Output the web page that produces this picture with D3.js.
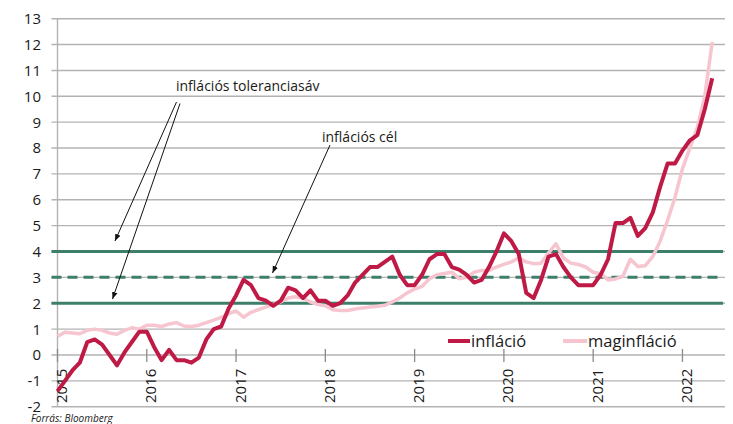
<!DOCTYPE html>
<html>
<head>
<meta charset="utf-8">
<script src="https://cdn.jsdelivr.net/npm/d3@7"></script>
<style>
  html, body { margin: 0; padding: 0; background: #fff; }
  svg { display: block; }
  text { font-family: "Open Sans", Lato, sans-serif; fill: #1a1a1a; }
</style>
</head>
<body>
<svg id="chart" width="733" height="424"></svg>
<script>
// ---- Data (monthly, Jan 2015 – May 2022) ----
const startYear = 2015;
const yearLabels = ["2015", "2016", "2017", "2018", "2019", "2020", "2021", "2022"];
const yTicks = [-2, -1, 0, 1, 2, 3, 4, 5, 6, 7, 8, 9, 10, 11, 12, 13];

const inflacio = [
  -1.4, -1.0, -0.6, -0.3, 0.5, 0.6, 0.4, 0.0, -0.4, 0.1, 0.5, 0.9,
  0.9, 0.3, -0.2, 0.2, -0.2, -0.2, -0.3, -0.1, 0.6, 1.0, 1.1, 1.8,
  2.3, 2.9, 2.7, 2.2, 2.1, 1.9, 2.1, 2.6, 2.5, 2.2, 2.5, 2.1,
  2.1, 1.9, 2.0, 2.3, 2.8, 3.1, 3.4, 3.4, 3.6, 3.8, 3.1, 2.7,
  2.7, 3.1, 3.7, 3.9, 3.9, 3.4, 3.3, 3.1, 2.8, 2.9, 3.4, 4.0,
  4.7, 4.4, 3.9, 2.4, 2.2, 2.9, 3.8, 3.9, 3.4, 3.0, 2.7, 2.7,
  2.7, 3.1, 3.7, 5.1, 5.1, 5.3, 4.6, 4.9, 5.5, 6.5, 7.4, 7.4,
  7.9, 8.3, 8.5, 9.5, 10.7
];

const maginflacio = [
  0.72, 0.88, 0.85, 0.82, 0.95, 1.0, 0.95, 0.85, 0.8, 0.95, 1.05, 1.0,
  1.15, 1.15, 1.1, 1.2, 1.25, 1.12, 1.1, 1.15, 1.25, 1.35, 1.45, 1.6,
  1.7, 1.46, 1.65, 1.75, 1.85, 1.95, 2.05, 2.2, 2.25, 2.2, 2.05, 1.95,
  1.9, 1.75, 1.72, 1.72, 1.78, 1.82, 1.85, 1.88, 1.92, 2.05, 2.2, 2.4,
  2.55, 2.65, 2.95, 3.1, 3.15, 3.2, 2.95, 3.0, 3.2, 3.27, 3.27, 3.4,
  3.5, 3.6, 3.75, 3.6, 3.53, 3.55, 3.95, 4.3, 3.75, 3.55, 3.5, 3.4,
  3.2, 3.14, 2.9, 2.94, 3.05, 3.7, 3.42, 3.45, 3.8, 4.4, 5.2, 6.1,
  7.2, 8.0, 8.8, 10.0, 12.1
];

const targetLevels = [2, 3, 4];   // tolerance band 2–4, target 3
const seriesNames = ["infláció", "maginfláció"];

// ---- Layout ----
const svg = d3.select("#chart");
const x = d3.scaleLinear().domain([0, 88]).range([57.5, 57.5 + 88 * 7.44]);
const y = d3.scaleLinear().domain([-2, 13]).range([406.7, 18.7]);
const gridLeft = 51.5, gridRight = 725;

const cRed = "#bf1a45", cPink = "#f6c5cf", cGreen = "#3e7f6b", cGrid = "#b3b3b3";

// gridlines
svg.append("g").selectAll("line").data(yTicks).join("line")
  .attr("x1", gridLeft).attr("x2", gridRight)
  .attr("y1", d => y(d)).attr("y2", d => y(d))
  .attr("stroke", cGrid).attr("stroke-width", 1.4);

// vertical axis line
svg.append("line")
  .attr("x1", x(0)).attr("x2", x(0))
  .attr("y1", y(13)).attr("y2", y(-2))
  .attr("stroke", cGrid).attr("stroke-width", 1.4);

// y labels
svg.append("g").selectAll("text").data(yTicks).join("text")
  .attr("x", 41).attr("y", d => y(d))
  .attr("dy", "0.36em")
  .attr("text-anchor", "end")
  .attr("font-size", 15)
  .text(d => d);

// x ticks (on the 0 line)
const xTickVals = yearLabels.map((_, i) => i * 12);
svg.append("g").selectAll("line").data(xTickVals).join("line")
  .attr("x1", d => x(d)).attr("x2", d => x(d))
  .attr("y1", y(0) - 6).attr("y2", y(0) + 7)
  .attr("stroke", "#8a8a8a").attr("stroke-width", 1.3);

svg.append("g").selectAll("text").data(yearLabels).join("text")
  .attr("transform", (d, i) => `translate(${x(i * 12) + 9.5},403) rotate(-90)`)
  .attr("text-anchor", "start")
  .attr("font-size", 15)
  .text(d => d);

// target / tolerance lines
svg.append("g").selectAll("line").data(targetLevels).join("line")
  .attr("x1", gridLeft).attr("x2", gridRight - 2)
  .attr("y1", d => y(d)).attr("y2", d => y(d))
  .attr("stroke", cGreen)
  .attr("stroke-width", 3)
  .attr("stroke-dasharray", d => d === 3 ? "10,6" : null);

// series lines
const line = d3.line().x((d, i) => x(i)).y(d => y(d)).curve(d3.curveLinear);
svg.append("path").datum(maginflacio)
  .attr("d", line).attr("fill", "none")
  .attr("stroke", cPink).attr("stroke-width", 3.5)
  .attr("stroke-linejoin", "round");
svg.append("path").datum(inflacio)
  .attr("d", line).attr("fill", "none")
  .attr("stroke", cRed).attr("stroke-width", 4)
  .attr("stroke-linejoin", "round");

// legend
const legend = svg.append("g");
const lg = [
  {name: seriesNames[0], color: cRed, x1: 448, x2: 470, w: 4},
  {name: seriesNames[1], color: cPink, x1: 563, x2: 587, w: 4}
];
lg.forEach(d => {
  legend.append("line").attr("x1", d.x1).attr("x2", d.x2)
    .attr("y1", 341).attr("y2", 341)
    .attr("stroke", d.color).attr("stroke-width", d.w);
  legend.append("text").attr("x", d.x2 + 1).attr("y", 341)
    .attr("dy", "0.36em").attr("font-size", 16.5).text(d.name);
});

// annotations
const defs = svg.append("defs");
defs.append("marker").attr("id", "arr")
  .attr("viewBox", "0 0 10 10").attr("refX", 10).attr("refY", 5)
  .attr("markerWidth", 7).attr("markerHeight", 7)
  .attr("orient", "auto")
  .append("path").attr("d", "M0,1 L10,5 L0,9 Z").attr("fill", "#111");

svg.append("text").attr("x", 176).attr("y", 90.5)
  .attr("font-size", 14).text("inflációs toleranciasáv");
svg.append("text").attr("x", 322).attr("y", 141.5)
  .attr("font-size", 14).text("inflációs cél");

const arrows = [
  [176.5, 102, 115, 241],
  [180, 103.5, 112.5, 299],
  [330, 145, 272.5, 273]
];
svg.append("g").selectAll("line").data(arrows).join("line")
  .attr("x1", d => d[0]).attr("y1", d => d[1])
  .attr("x2", d => d[2]).attr("y2", d => d[3])
  .attr("stroke", "#111").attr("stroke-width", 1)
  .attr("marker-end", "url(#arr)");

// source
svg.append("text").attr("x", 31).attr("y", 422)
  .attr("font-size", 10).attr("font-style", "italic")
  .attr("fill", "#333").text("Forrás: Bloomberg");
</script>
</body>
</html>
